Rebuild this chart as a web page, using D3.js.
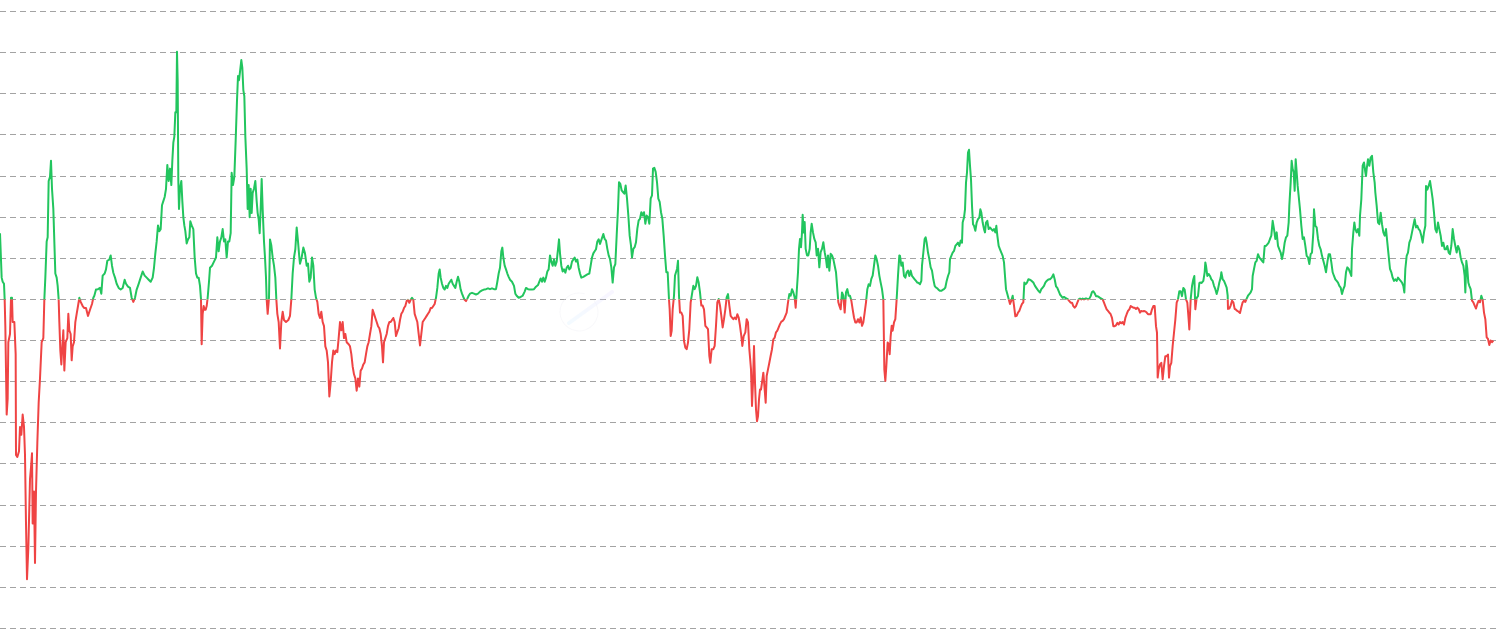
<!DOCTYPE html>
<html>
<head>
<meta charset="utf-8">
<script src="https://cdn.jsdelivr.net/npm/d3@7/dist/d3.min.js"></script>
<style>
  html, body { margin: 0; padding: 0; background: #ffffff; overflow: hidden; }
  svg { display: block; }
</style>
</head>
<body>
<svg id="chart" width="1500" height="633"></svg>
<script>
// ---- DATA (day index, oscillator value; green above 0, red below) ----
const days = [
  0,5,8,12,14,16,20,23,25,30,
  33,36,38,43,47,48,52,57,60,64,
  68,72,75,78,81,85,90,93,96,98,
  102,105,108,112,116,120,125,130,133,136,
  140,143,146,150,153,156,160,163,166,170,
  173,176,178,181,184,187,190,193,197,202,
  205,208,212,215,218,222,226,230,234,238,
  242,248,253,258,264,270,276,280,283,288,
  294,300,304,308,314,318,322,328,332,336,
  340,345,350,356,362,368,374,378,384,390,
  395,400,405,410,416,422,428,434,440,446,
  452,458,462,466,470,474,478,482,486,490,
  494,498,502,506,510,514,517,520,523,526,
  529,531,533,535,537,540,544,547,550,553,
  556,560,564,568,571,575,580,584,588,592,
  596,600,603,605,608,611,614,617,620,623,
  627,630,636,642,648,652,656,660,664,668,
  672,676,680,684,688,692,695,699,703,707,
  711,714,717,720,724,727,730,733,736,740,
  743,746,749,752,755,758,762,766,770,773,
  776,779,782,785,788,792,795,798,800,803,
  807,810,814,818,822,826,829,832,836,840,
  844,848,852,858,865,870,874,878,882,886,
  890,894,898,
  900,905,910,915,920,924,928,932,936,940,
  944,948,952,956,960,964,968,972,976,980,
  984,988,992,996,1000,1004,1008,1012,1016,1020,
  1024,1028,1032,1036,1040,1046,1050,1054,1058,1062,
  1066,1070,1074,1078,1082,1086,1090,1094,1098,1102,
  1106,1110,1114,1118,1122,1126,1130,1134,1138,1142,
  1146,1149,1152,1156,1160,1164,1168,1172,1176,1180,
  1184,1188,1192,1196,1200,1204,1208,1212,1216,1220,
  1224,1228,1232,1236,1240,1244,1248,1252,1256,1260,
  1264,1268,1272,1276,1280,1284,1288,1292,1296,1300,
  1304,1308,1312,1316,1319,1322,1326,1330,1334,1338,
  1342,1346,1350,1354,1358,1362,1366,1370,1374,1378,
  1382,1386,1390,1394,1398,1402,1406,1410,1416,1422,
  1428,1434,1440,1446,1452,1458,1464,1470,1476,1482,
  1488,1492,1496,1500,1504,1507,1510,1514,1518,1522,
  1526,1530,1536,1542,1546,1550,1556,1562,1568,1574,
  1578,1584,1590,1596,1602,1608,1614,1618,1622,1626,
  1630,1634,1638,1642,1646,1650,1654,1658,1662,1666,
  1670,1674,1677,1680,1684,1688,1692,1696,1700,1704,
  1708,1712,1716,1720,1724,1728,1732,1736,1740,1744,
  1750,1756,1762,1768,1772,1776,1780,1784,1788,1792,
  1796,
  1800,1805,1810,1814,1818,1822,1826,1830,1834,1838,
  1842,1846,1850,1854,1857,1861,1865,1869,1873,1877,
  1881,1885,1889,1893,1896,1900,1904,1908,1912,1916,
  1920,1924,1928,1932,1936,1940,1944,1948,1952,1956,
  1959,1963,1967,1971,1975,1979,1983,1987,1991,1995,
  1999,2003,2007,2009,2012,2015,2018,2022,2025,2028,
  2031,2034,2037,2040,2044,2048,2052,2056,2060,2064,
  2068,2072,2076,2080,2084,2088,2092,2096,2100,2104,
  2108,2112,2116,2120,2124,2128,2131,2135,2140,2144,
  2148,2152,2156,2160,2164,2168,2172,2176,2180,2184,
  2188,2192,2196,2200,2204,2208,2212,2216,2220,2224,
  2227,2231,2236,2240,2244,2248,
  2250,2253,2256,2259,2262,2265,2268,2271,2274,2277,
  2280,2283,2286,2290,2294,2297,2300,2304,2308,2312,
  2316,2320,2324,2328,2332,2336,2340,2344,2348,2352,
  2356,2360,2364,2368,2372,2376,2380,2384,2387,2390,
  2394,2397,2400,2403,2406,2408,2411,2414,2417,2421,
  2425,2429,2432,2435,2439,2443,2447,2450,2454,2458,
  2462,2466,2470,2474,2478,2481,2484,2488,2492,2496,
  2500,2504,2508,2512,2515,2518,2522,2526,2530,2534,
  2538,2542,2546,2550,2554,2558,2562,2566,2570,2574,
  2578,2582,2586,2590,2594,2598,2602,2606,2610,2614,
  2618,2622,2626,2630,2634,2638,2642,2646,2650,2653,
  2656,2659,2663,2666,2669,2672,2675,2678,2682,2686,
  2690,2694,2698,
  2700,2704,2708,2712,2716,2720,2724,2728,2732,2736,
  2740,2744,2748,2752,2756,2760,2764,2766,2770,2774,
  2777,2780,2784,2788,2792,2796,2800,2804,2808,2812,
  2816,2820,2824,2828,2832,2836,2840,2844,2848,2850,
  2854,2858,2862,2866,2870,2874,2878,2882,2886,2888,
  2892,2895,2898,2901,2904,2907,2910,2913,2916,2919,
  2922,2926,2930,2934,2938,2941,2944,2948,2952,2955,
  2958,2962,2966,2970,2974,2978,2982,2986,2989,2992,
  2996,3000,3004,3008,3012,3015,3018,3022,3026,3030,
  3034,3038,3042,3046,3050,3054,3058,3062,3066,3070,
  3073,3077,3081,3085,3090,3095,3100,3105,3110,3115,
  3120,3124,3128,3132,3136,3140,3144,3148,
  3150,3155,3160,3164,3168,3172,3176,3180,3184,3188,
  3192,3196,3200,3204,3208,3212,3216,3220,3224,3228,
  3232,3236,3240,3244,3248,3252,3256,3260,3264,3268,
  3272,3276,3280,3284,3288,3292,3296,3300,3304,3308,
  3312,3316,3320,3324,3328,3332,3336,3340,3344,3348,
  3352,3356,3360,3364,3368,3372,3376,3380,3384,3388,
  3392,3396,3400,3404,3408,3412,3416,3420,3424,3428,
  3432,3436,3440,3444,3448,3452,3456,3460,3464,3468,
  3471,3473,3476,3480,3484,3488,3492,3496,3500,3504,
  3507,3510,3514,3518,3522,3526,3530,3534,3538,3542,
  3546,3550,3554,3558,3562,3566,3568,3572,3576,3580,
  3583,3586,3590,3594,3598,
  3600,3605,3610,3614,3616,3618,3622,3626,3630,3634,
  3638,3642,3646,3650,3654,3658,3662,3664,3668,3672,
  3676,3680,3683,3684,3688,3692,3696,3700,3704,3708,
  3712,3716,3720,3724,3728,3732,3736,3740,3744,3748,
  3752,3756,3758,3762,3766,3770,3774,3778,3782,3786,
  3790,3794,3798,3802,3806,3810,3814,3818,3822,3826,
  3830,3834,3838,3842,3846,3850,3854,3858,3862,3866,
  3868,3872,3875,3878,3881,3884,3887,3890,3893,3896,
  3900,3904,3908,3912,3916,3920,3924,3928,3932,3936,
  3940,3942,3946,3950,3954,3958,3962,3966,3970,3974,
  3978,3982,3986,3990,3994,3998,4002,4006,4010,4014,
  4018,4022,4026,4030,4034,4038,4042,4046,4050,
  4054,4056,4060,4063,4066,4070,4074,4078,4080,4084,
  4088,4092,4096,4098,4100,4104,4108,4112,4116,4120,
  4124,4126,4130,4134,4138,4142,4146,4150,4154,4158,
  4162,4166,4170,4174,4178,4182,4186,4190,4194,4198,
  4202,4206,4210,4213,4216,4220,4224,4228,4232,4236,
  4240,4244,4248,4252,4256,4260,4264,4268,4272,4276,
  4278,4282,4286,4290,4294,4298,4302,4306,4310,4314,
  4318,4322,4326,4330,4334,4338,4342,4346,4350,4354,
  4358,4362,4366,4370,4374,4378,4382,4386,4390,4394,
  4396,4399,4402,4405,4408,4412,4416,4420,4424,4428,
  4432,4436,4440,4444,4448,4452,4456,4460,4464,4468,
  4472,4476,4480
];

const values = [
  16.1,5.3,4.3,3.8,0,-6.5,-28.0,-24.1,-10.4,-8.4,
  0.4,0.4,-5.5,-5.5,-13.3,-37.8,-38.3,-36.9,-31.0,-32.9,
  -28.0,-31.0,-37.8,-54.5,-68.0,-60.4,-43.7,-40.8,-37.4,-54.5,
  -46.7,-64.1,-46.7,-34.9,-25.1,-19.2,-10.4,-9.4,0,5.3,
  14.1,15.1,28.8,29.8,33.7,26.9,22.0,14.1,6.3,5.3,
  3.3,0,-5.5,-12.4,-15.8,-11.4,-7.5,-17.3,-10.4,-9.4,
  -3.5,-7.5,-8.4,-14.8,-11.4,-10.4,-5.5,-3.5,-1.6,0.4,
  -0.6,-1.6,-2.1,-2.1,-4.0,-2.5,-1.1,0.4,0.9,2.4,
  2.5,2.8,1.4,5.8,6.3,7.3,9.4,9.7,10.7,8.2,
  6.5,5.3,3.8,2.8,2.4,2.8,4.8,3.8,3.1,2.8,
  0.4,-0.6,0.4,2.4,3.8,5.3,6.8,5.8,5.3,4.8,
  4.3,5.3,7.7,11.2,14.1,18.0,16.6,17.1,22.9,23.9,
  24.9,26.9,32.7,28.8,31.8,27.8,33.7,38.1,39.6,45.5,
  45.5,60.2,53.3,28.8,22.0,26.9,28.8,23.9,20.0,18.0,
  16.6,13.6,14.6,15.1,19.0,18.0,17.1,10.2,6.3,5.3,
  5.3,3.3,0,-10.9,-3.5,-1.6,-2.5,-2.5,-1.6,0.4,
  4.3,7.7,8.2,9.2,10.2,15.1,11.7,14.1,15.1,17.1,
  14.1,14.6,10.2,14.1,14.1,16.1,30.8,27.8,29.8,38.6,
  48.4,54.3,53.3,55.3,58.2,56.3,50.9,49.4,39.6,31.8,
  22.0,27.8,20.0,26.9,21.0,25.9,26.9,28.8,23.9,21.0,
  19.5,16.1,22.0,29.3,22.0,14.1,10.2,5.3,0,-3.5,
  0.4,14.6,13.1,10.2,8.2,5.3,0,-3.5,-5.5,-11.9,
  -5.5,-3.0,-5.0,-5.5,-5.0,-4.0,0,6.3,10.2,12.2,
  17.5,14.1,10.2,
  8.7,10.2,12.6,11.2,8.2,8.7,4.3,5.3,10.2,8.2,
  2.4,0.4,-0.6,-3.5,-4.5,-3.0,-5.5,-6.5,-11.4,-12.4,
  -15.3,-23.6,-20.2,-15.3,-12.4,-13.3,-12.4,-12.8,-9.4,-5.5,
  -7.5,-5.5,-9.4,-8.4,-10.4,-10.9,-11.4,-13.3,-16.3,-18.2,
  -19.2,-22.2,-19.2,-21.2,-17.3,-16.8,-15.8,-15.3,-13.3,-11.4,
  -10.4,-8.4,-6.5,-2.5,-3.5,-4.5,-5.5,-6.5,-7.0,-8.4,
  -11.4,-15.3,-10.4,-9.4,-8.4,-6.5,-5.5,-5.5,-5.0,-4.5,
  -5.5,-8.9,-7.9,-7.0,-5.0,-3.5,-3.0,-2.1,-1.6,-0.4,
  -0.1,-0.8,-0.1,0.4,-0.1,-3.5,-4.5,-5.5,-8.4,-11.2,
  -8.4,-5.5,-5.0,-4.5,-4.0,-3.5,-3.0,-2.1,-2.1,-1.6,
  -1.1,0.4,2.8,6.3,7.3,5.3,3.8,2.8,2.4,3.3,
  2.8,3.8,4.3,4.8,3.8,3.3,2.8,4.3,5.5,4.3,
  2.4,1.4,0.6,-0.1,-0.4,0.2,0.9,1.4,1.6,1.4,
  1.2,1.4,1.9,2.2,2.4,2.5,2.7,2.5,2.7,2.5,
  2.5,4.3,6.3,7.7,11.7,12.6,10.2,8.2,7.3,6.3,
  5.5,4.8,4.3,3.3,1.4,0.9,0.4,0.6,0.9,1.9,
  2.8,2.5,2.4,2.4,2.5,3.1,3.5,4.3,5.1,4.3,
  5.3,4.3,5.3,6.8,7.3,10.7,9.2,8.2,9.7,8.2,
  9.2,12.2,14.6,11.2,8.2,6.8,7.3,6.5,7.7,8.2,
  7.3,7.7,9.2,9.7,10.2,9.2,9.7,7.7,6.3,5.3,
  5.5,5.8,6.1,6.3,8.2,10.2,11.2,11.7,12.2,14.1,
  14.6,
  13.5,14.7,15.9,14.7,14.3,12.3,10.7,9.8,7.8,4.1,
  7.8,8.6,15.5,22.0,28.5,28.1,26.5,26.1,25.7,27.7,
  24.5,20.4,15.5,13.1,10.2,12.3,12.7,13.9,17.2,19.2,
  19.6,21.2,20.4,21.2,18.4,20.4,20.0,18.4,24.5,25.3,
  31.8,32.0,31.0,28.5,24.5,23.7,21.2,19.6,15.5,10.7,
  6.6,6.6,0,-2.4,-8.9,-7.6,-2.4,0.9,5.8,6.6,
  7.4,9.4,0.9,-3.2,-3.2,-4.0,-10.1,-11.7,-12.1,-10.5,
  -7.2,-0.7,1.3,3.3,2.5,3.3,5.4,4.1,1.7,-1.5,
  -1.5,-2.4,-6.4,-6.8,-7.2,-13.7,-15.4,-12.1,-12.1,-11.3,
  -6.4,-0.7,0.1,-1.5,-4.0,-6.8,-4.8,-2.4,0.5,1.3,
  -1.5,-4.0,-4.4,-4.8,-4.4,-4.8,-3.6,-4.4,-6.4,-8.9,
  -11.3,-8.9,-8.0,-4.8,-5.6,-12.1,
  -14.0,-17.0,-25.9,-20.2,-11.3,-20.2,-26.7,-29.6,-28.4,-24.3,
  -21.9,-21.9,-20.2,-17.8,-21.9,-25.1,-18.6,-17.0,-15.4,-13.7,
  -12.1,-9.7,-9.3,-8.0,-7.6,-6.8,-6.0,-5.4,-5.2,-4.8,
  -4.0,-3.2,-0.7,1.3,0.9,2.5,1.7,0.5,-2.0,1.7,
  6.6,12.3,14.7,12.7,16.3,20.6,16.3,18.8,12.3,10.7,
  10.7,12.3,16.3,18.4,16.3,14.7,13.9,10.7,12.3,7.8,
  11.5,12.3,13.9,11.5,9.8,7.8,10.7,7.0,11.1,10.7,
  9.8,8.2,6.6,2.5,-0.7,-1.5,-2.4,1.7,0.9,-3.2,
  1.7,2.5,0.9,0.9,-0.3,-2.4,-4.4,-5.6,-5.6,-4.8,
  -5.6,-4.4,-6.4,-5.6,-3.2,-0.7,2.5,3.7,3.3,5.0,
  5.8,8.2,10.7,9.8,8.2,5.8,4.1,2.5,0,-17.0,
  -19.8,-16.2,-10.5,-10.9,-13.3,-8.9,-6.4,-7.6,-5.6,-4.8,
  0.1,5.8,10.7,
  10.6,8.2,9.0,5.7,5.3,6.6,7.0,5.7,7.0,5.7,
  5.3,4.9,4.5,4.1,4.0,3.7,4.5,8.2,11.4,14.7,
  15.1,13.8,11.4,9.8,7.8,7.0,4.9,3.3,2.9,2.7,
  2.3,2.1,2.1,2.3,2.5,2.9,4.5,5.7,6.6,9.8,
  10.6,11.4,11.8,13.0,13.4,13.8,13.0,14.3,13.8,18.7,
  19.9,21.9,28.4,30.9,35.7,36.4,32.5,29.2,22.8,18.3,
  17.9,16.7,18.7,19.5,19.9,21.9,21.1,18.7,17.1,16.3,
  18.7,19.1,17.1,17.5,17.1,16.7,17.1,16.3,17.9,15.5,
  13.0,12.2,11.4,10.6,9.0,5.7,2.5,1.3,0.1,-1.1,
  -0.3,0.9,-1.5,-4.1,-4.0,-3.2,-2.8,-1.9,-1.1,-0.7,
  4.1,3.7,4.1,4.9,4.8,4.5,4.1,3.3,2.7,2.1,
  1.7,2.5,2.9,3.3,4.1,4.5,4.8,4.9,
  4.9,5.3,6.1,4.9,3.2,2.8,2.0,1.2,0.8,0.4,
  0.6,0.4,0.2,0,-0.4,-0.8,-0.8,-1.6,-2.0,-1.6,
  -0.8,0,0.2,0,0.2,0,0.2,0.2,0,0.2,
  0.8,1.8,2.0,1.5,0.8,0.8,0.6,0.4,0.2,0,
  -0.8,-1.6,-2.4,-2.8,-3.2,-3.6,-4.5,-6.5,-6.5,-6.3,
  -5.7,-6.1,-5.5,-5.8,-5.5,-6.1,-4.5,-3.6,-2.8,-2.4,
  -1.6,-1.8,-2.0,-2.0,-2.3,-2.0,-2.3,-3.2,-2.8,-2.9,
  -2.8,-2.9,-3.2,-3.6,-3.6,-3.6,-2.4,-1.6,-1.6,-6.5,
  -8.1,-19.0,-17.0,-15.8,-15.4,-19.4,-16.2,-13.8,-13.8,-13.4,
  -19.0,-16.2,-15.4,-11.3,-8.1,-4.9,-0.8,0,2.0,2.0,
  0.8,2.8,2.4,0,-0.8,-4.9,-7.3,0,3.2,4.9,
  5.7,-2.4,0.4,0.8,4.0,
  4.1,4.0,4.5,6.6,9.0,8.2,5.7,6.2,5.7,4.9,
  4.5,3.3,2.5,1.3,2.5,4.1,5.3,6.6,4.9,4.5,
  3.7,2.9,0.9,-2.3,-2.2,-1.5,-0.3,-0.7,-2.3,-2.5,
  -2.8,-3.0,-3.3,-1.9,-0.7,-0.3,-0.6,0.2,0.9,1.3,
  1.7,2.5,5.7,7.4,9.0,9.4,11.0,10.2,9.8,9.4,
  9.0,13.0,13.0,13.4,13.8,14.7,15.5,19.1,17.1,14.7,
  16.3,13.0,12.2,11.4,9.8,11.4,13.8,15.1,15.5,18.7,
  22.8,28.4,33.7,31.7,30.9,26.4,34.1,30.9,27.6,25.2,
  21.9,17.9,14.7,15.1,13.0,10.6,10.2,8.6,11.0,11.4,
  16.3,21.9,17.9,17.5,14.7,13.0,12.2,10.6,9.4,8.2,
  6.6,9.0,11.0,11.0,9.0,6.6,5.7,4.9,4.5,4.1,
  3.3,2.9,1.3,2.5,3.3,6.6,7.8,7.4,6.6,
  5.7,12.2,16.3,18.7,17.1,16.3,17.1,15.5,20.3,24.4,
  32.5,33.3,30.9,30.0,31.7,34.1,32.5,34.5,34.9,30.9,
  28.4,26.0,22.8,18.7,18.3,21.1,18.3,16.3,15.5,17.1,
  13.8,10.6,7.4,6.6,5.3,4.5,4.9,4.5,5.3,4.9,
  4.5,4.1,3.3,1.7,7.4,10.6,11.4,13.8,14.7,16.3,
  17.9,19.5,17.5,17.9,17.1,16.7,15.5,13.8,16.3,17.9,
  27.6,26.7,27.6,28.8,26.7,24.4,21.1,17.1,16.3,18.7,
  17.1,15.5,13.0,13.8,12.2,12.2,13.0,11.4,11.0,13.0,
  17.1,14.7,13.0,11.4,13.0,12.2,10.2,9.0,8.2,5.7,
  1.7,9.4,7.4,4.1,3.3,2.5,-0.3,-0.7,-1.5,-2.2,
  -1.1,-0.3,-0.7,0.9,-0.1,-3.2,-4.8,-9.2,-9.6,-11.1,
  -10.0,-10.4,-10.0
];

// gridline levels (tick values, labels hidden in the reference)
const gridLevels = [-80,-70,-60,-50,-40,-30,-20,-10,0,10,20,30,40,50,60,70];
const threshold = 0;
const dayDomain = [0, 4500];
const upColor = "#22c55e";
const downColor = "#ef4444";

// ---- CHART ----
const W = 1500, H = 633;
const svg = d3.select("#chart");

const x = d3.scaleLinear().domain(dayDomain).range([0, W]);
const y = d3.scaleLinear().domain([d3.min(gridLevels), d3.max(gridLevels)]).range([628.5, 11.5]);

// dashed gridlines
svg.append("g").attr("class", "grid")
  .selectAll("line").data(gridLevels).join("line")
  .attr("x1", 0).attr("x2", W)
  .attr("y1", d => Math.round(y(d) - 0.5) + 0.5)
  .attr("y2", d => Math.round(y(d) - 0.5) + 0.5)
  .attr("stroke", "#a3a3a3")
  .attr("stroke-width", 1)
  .attr("stroke-dasharray", "6,4");

// very faint watermark logo
const defs = svg.append("defs");
const grad = defs.append("linearGradient")
  .attr("id", "comet").attr("x1", "0%").attr("y1", "100%").attr("x2", "100%").attr("y2", "0%");
grad.append("stop").attr("offset", "0%").attr("stop-color", "#bfe6ff");
grad.append("stop").attr("offset", "100%").attr("stop-color", "#d9ccff");
const wm = svg.append("g").attr("opacity", 0.35);
wm.append("path")
  .attr("d", d3.arc()({innerRadius: 18.5, outerRadius: 19.5, startAngle: 0.9, endAngle: 2 * Math.PI + 0.3}))
  .attr("transform", "translate(579,312)")
  .attr("fill", "#ececf2");
wm.append("line")
  .attr("x1", 569).attr("y1", 323).attr("x2", 612).attr("y2", 292)
  .attr("stroke", "url(#comet)").attr("stroke-width", 4).attr("stroke-linecap", "round")
  .attr("opacity", 0.5);

// data
const data = days.map((d, i) => ({ day: d, v: values[i] }));
const line = d3.line().x(d => x(d.day)).y(d => y(d.v));

const yT = y(threshold);
defs.append("clipPath").attr("id", "clip-up")
  .append("rect").attr("x", 0).attr("y", 0).attr("width", W).attr("height", yT);
defs.append("clipPath").attr("id", "clip-down")
  .append("rect").attr("x", 0).attr("y", yT).attr("width", W).attr("height", H - yT);

svg.append("path").datum(data)
  .attr("d", line)
  .attr("fill", "none")
  .attr("stroke", upColor)
  .attr("stroke-width", 2)
  .attr("stroke-linejoin", "round")
  .attr("clip-path", "url(#clip-up)");

svg.append("path").datum(data)
  .attr("d", line)
  .attr("fill", "none")
  .attr("stroke", downColor)
  .attr("stroke-width", 2)
  .attr("stroke-linejoin", "round")
  .attr("clip-path", "url(#clip-down)");
</script>
</body>
</html>
